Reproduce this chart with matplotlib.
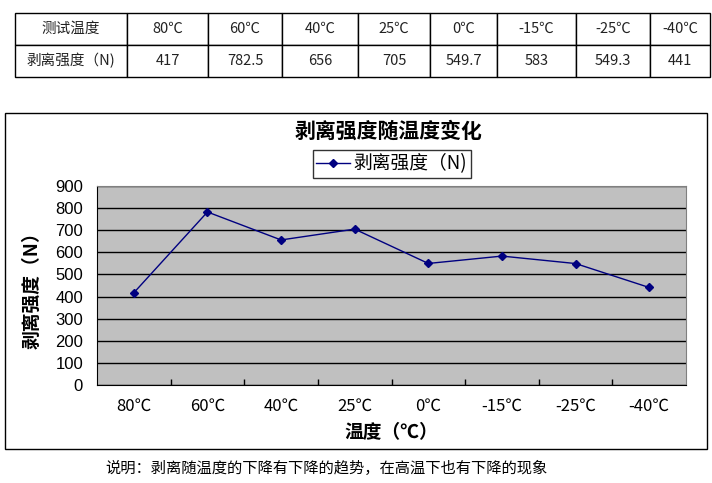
import matplotlib
matplotlib.use("Agg")
import matplotlib.pyplot as plt
from matplotlib.patches import Rectangle

plt.rcParams['font.family'] = ['Liberation Sans', 'Noto Sans CJK SC', 'DejaVu Sans']
CJK = ['Noto Sans CJK SC', 'DejaVu Sans']

# data
temps = ['80℃', '60℃', '40℃', '25℃', '0℃', '-15℃', '-25℃', '-40℃']
strength = [417, 782.5, 656, 705, 549.7, 583, 549.3, 441]
strength_text = ['417', '782.5', '656', '705', '549.7', '583', '549.3', '441']
row_names = ['测试温度', '剥离强度（N)']

W, H = 712, 483
fig = plt.figure(figsize=(W / 100, H / 100), dpi=100)


def box(x0, y0, x1, y1):
    # pixel box (top-left origin) -> figure fraction
    return [x0 / W, 1 - y1 / H, (x1 - x0) / W, (y1 - y0) / H]


# table at the top
col_edges = [15, 127, 208, 282, 358, 430, 497, 576, 650, 710]
widths = [b - a for a, b in zip(col_edges[:-1], col_edges[1:])]
tax = fig.add_axes(box(15, 13, 710, 77))
tax.axis('off')
cells = [[row_names[0]] + temps, [row_names[1]] + strength_text]
tbl = tax.table(cellText=cells, colWidths=[w / sum(widths) for w in widths],
                cellLoc='center', bbox=[0, 0, 1, 1])
tbl.auto_set_font_size(False)
for (r, c), cell in tbl.get_celld().items():
    cell.set_linewidth(1.0)
    cell.set_edgecolor('black')
    cell.get_text().set_fontsize(10.5)
    cell.get_text().set_family(CJK)
    cell.get_text().set_color('#222222')

# chart frame
x0, y0, w, h = box(5, 113, 707, 449)
fig.add_artist(Rectangle((x0, y0), w, h, transform=fig.transFigure,
                         fill=False, edgecolor='black', linewidth=1.0))

ax = fig.add_axes(box(97, 186, 686, 385))
ax.set_facecolor('#C0C0C0')
x = list(range(len(temps)))
line, = ax.plot(x, strength, color='#000080', marker='D', markersize=4.5,
                linewidth=1.0, label='剥离强度（N)')

ax.set_xlim(-0.5, len(temps) - 0.5)
ax.set_ylim(0, 900)
ax.set_yticks(range(0, 1000, 100))
ax.yaxis.grid(True, color='black', linewidth=1.0)
ax.set_axisbelow(True)
ax.tick_params(axis='y', length=0, pad=10, labelsize=12)

ax.set_xticks(x)
ax.set_xticklabels(temps, family=CJK)
ax.set_xticks([i + 0.5 for i in x[:-1]], minor=True)
ax.tick_params(axis='x', which='major', length=0, pad=9, labelsize=12)
ax.tick_params(axis='x', which='minor', direction='in', length=4, width=1)

for s in ['top', 'right']:
    ax.spines[s].set_color('#808080')
for s in ['left', 'bottom']:
    ax.spines[s].set_color('black')

ax.set_xlabel('温度（℃）', fontsize=13.5, fontweight='bold', family=CJK, labelpad=6)
ax.set_ylabel('剥离强度（N）', fontsize=13.5, fontweight='bold', family=CJK, labelpad=10)

fig.text(389 / W, 1 - 131 / H, '剥离强度随温度变化', ha='center', va='center',
         fontsize=15, fontweight='bold', family=CJK)

leg = fig.legend(handles=[line], loc='center', bbox_to_anchor=(392 / W, 1 - 164 / H),
                 frameon=True, fancybox=False, handlelength=1.8, handletextpad=0.2,
                 borderpad=0.2, borderaxespad=0,
                 prop={'family': CJK, 'size': 13.5})
leg.get_frame().set_edgecolor('black')
leg.get_frame().set_linewidth(1.0)

fig.text(105 / W, 1 - 468 / H, '说明：剥离随温度的下降有下降的趋势，在高温下也有下降的现象',
         ha='left', va='center', fontsize=11, family=CJK)

fig.savefig('out.png', dpi=100)
